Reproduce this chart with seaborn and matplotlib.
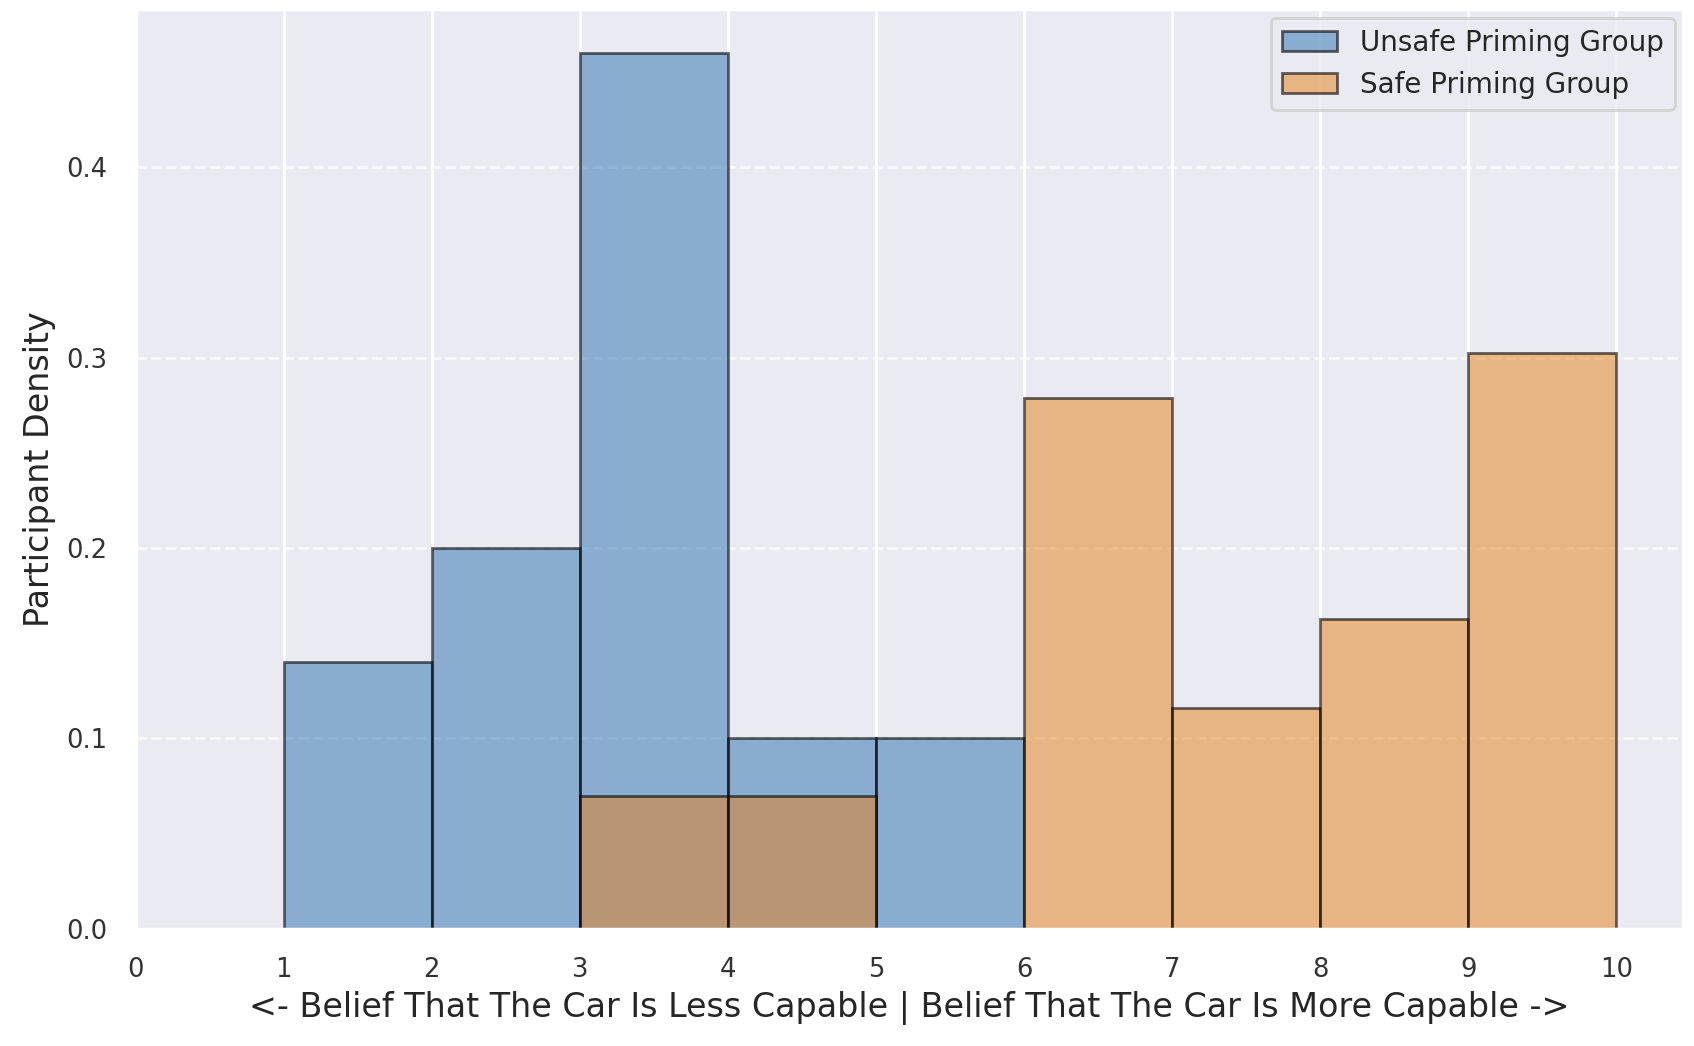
import numpy as np
import pandas as pd
import matplotlib
matplotlib.use("Agg")
import matplotlib.pyplot as plt
import seaborn as sns

# Data (bin = rating interval [k, k+1))
bin_edges = [1, 2, 3, 4, 5, 6, 7, 8, 9, 10]
bin_left = [1, 2, 3, 4, 5, 6, 7, 8, 9]
unsafe_counts = [7, 10, 23, 5, 5, 0, 0, 0, 0]
safe_counts = [0, 0, 3, 3, 0, 12, 5, 7, 13]
series_labels = ["Unsafe Priming Group", "Safe Priming Group"]
series_colors = ["#2C70B2", "#E68218"]
xtick_values = [0, 1, 2, 3, 4, 5, 6, 7, 8, 9, 10]

sns.set_theme(style="darkgrid")
plt.rcParams['font.family'] = ['DejaVu Sans']

fig, ax = plt.subplots(figsize=(8.47, 5.23), dpi=200)
fig.subplots_adjust(left=0.080, right=0.9935, top=0.991, bottom=0.112)

df_unsafe = pd.DataFrame({"x": np.array(bin_left) + 0.5, "w": unsafe_counts})
df_safe = pd.DataFrame({"x": np.array(bin_left) + 0.5, "w": safe_counts})

edge = (0, 0, 0, 0.6)
sns.histplot(data=df_unsafe, x="x", weights="w", bins=bin_edges, stat="density",
             color=series_colors[0], alpha=0.5, edgecolor=edge, linewidth=1.0,
             label=series_labels[0], ax=ax)
sns.histplot(data=df_safe, x="x", weights="w", bins=bin_edges, stat="density",
             color=series_colors[1], alpha=0.5, edgecolor=edge, linewidth=1.0,
             label=series_labels[1], ax=ax)

ax.set_xticks(xtick_values)
ax.set_xlim(0, 10.45)
ax.grid(axis="y", linestyle="--", alpha=0.7)
ax.grid(axis="x", linestyle="-")
ax.tick_params(axis="both", labelsize=9.3, pad=4, labelcolor="#333333")
ax.set_xlabel("<- Belief That The Car Is Less Capable | Belief That The Car Is More Capable ->",
              fontsize=12, labelpad=3)
ax.set_ylabel("Participant Density", fontsize=12)
ax.legend(loc="upper right", fontsize=10, borderaxespad=0.3)

fig.savefig("out.png", dpi=200)
